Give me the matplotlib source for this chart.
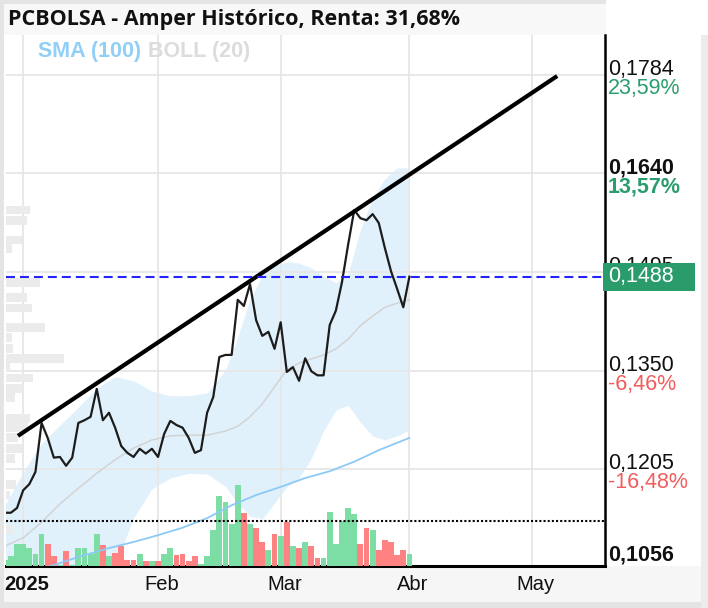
import matplotlib
matplotlib.use('Agg')
import matplotlib.pyplot as plt
from matplotlib.patches import Rectangle
import matplotlib.transforms as mtransforms

# Datos (eje x = sesiones desde el 27/12/2024)
price = [0.1141, 0.1141, 0.1148, 0.1174, 0.1183, 0.1201, 0.1273, 0.1251, 0.1222, 0.1223,
         0.1210, 0.1222, 0.1273, 0.1277, 0.1282, 0.1323, 0.1277, 0.1288, 0.1266, 0.1239,
         0.1229, 0.1223, 0.1235, 0.1228, 0.1235, 0.1223, 0.1257, 0.1276, 0.1270, 0.1266,
         0.1251, 0.1229, 0.1233, 0.1288, 0.1311, 0.1370, 0.1373, 0.1373, 0.1454, 0.1445,
         0.1477, 0.1424, 0.1401, 0.1407, 0.1382, 0.1421, 0.1348, 0.1355, 0.1335, 0.1368,
         0.1349, 0.1343, 0.1343, 0.1417, 0.1438, 0.1480, 0.1535, 0.1586, 0.1574, 0.1571,
         0.1580, 0.1567, 0.1530, 0.1496, 0.1470, 0.1443, 0.1488]
volume = [6, 10, 22, 22, 18, 12, 32, 22, 10, 1,
          15, 1, 18, 18, 12, 32, 21, 10, 13, 20,
          6, 6, 12, 5, 5, 5, 12, 18, 11, 12,
          5, 10, 2, 10, 36, 70, 64, 42, 81, 53,
          42, 38, 24, 16, 32, 30, 44, 20, 18, 24,
          20, 8, 8, 54, 22, 45, 58, 52, 22, 38,
          36, 16, 26, 24, 11, 16, 12]
vol_avg = 45
vol_top = 531  # volumen que ocupa todo el alto del panel

boll_idx = [0, 3, 6, 9, 12, 15, 18, 21, 24, 27, 30, 33, 36, 38, 40, 42, 44, 46, 48, 50,
            52, 54, 56, 58, 60, 62, 64, 66]
boll_up = [0.1152, 0.1201, 0.1243, 0.1270, 0.1296, 0.1324, 0.1341, 0.1335, 0.1320, 0.1313,
           0.1313, 0.1317, 0.1351, 0.1399, 0.1455, 0.1490, 0.1505, 0.1510, 0.1508, 0.1501,
           0.1489, 0.1479, 0.1492, 0.1557, 0.1604, 0.1632, 0.1648, 0.1648]
boll_mid = [0.1092, 0.1104, 0.1127, 0.1154, 0.1177, 0.1199, 0.1219, 0.1236, 0.1248, 0.1254,
            0.1255, 0.1255, 0.1261, 0.1268, 0.1282, 0.1301, 0.1326, 0.1351, 0.1361, 0.1367,
            0.1373, 0.1382, 0.1396, 0.1416, 0.1430, 0.1443, 0.1449, 0.1454]
boll_lo = [0.1027, 0.1005, 0.1008, 0.1016, 0.1024, 0.1035, 0.1064, 0.1133, 0.1176, 0.1192,
           0.1199, 0.1198, 0.1180, 0.1155, 0.1136, 0.1132, 0.1155, 0.1179, 0.1192, 0.1221,
           0.1261, 0.1292, 0.1299, 0.1274, 0.1254, 0.1248, 0.1254, 0.1263]

sma_idx = [0, 4, 8, 12, 17, 21, 25, 29, 33, 37, 41, 45, 49, 53, 57, 61, 66]
sma_val = [0.1042, 0.1054, 0.1064, 0.1076, 0.1089, 0.1098, 0.1108, 0.1119, 0.1133, 0.1152,
           0.1167, 0.1179, 0.1192, 0.1202, 0.1216, 0.1233, 0.1251]

trend_x = [2.15, 90.1]
trend_y = [0.1254, 0.1783]
last_price = 0.1488

# perfil de volumen (izquierda)
vp_levels = [0.1586, 0.1571, 0.1542, 0.1529, 0.1480, 0.1458, 0.1442, 0.1413, 0.1398, 0.1383,
             0.1368, 0.1354, 0.1339, 0.1324, 0.1310, 0.1280, 0.1266, 0.1251, 0.1236, 0.1221,
             0.1182, 0.1167, 0.1116]
vp_vol = [24, 21, 16, 6, 34, 21, 26, 39, 6, 7, 58, 4, 27, 17, 9, 24, 22, 12, 16, 9, 10, 4, 7]
vp_top = 599

axis_vals = [0.1784, 0.1640, 0.1495, 0.1350, 0.1205]
axis_pct = ['23,59%', '13,57%', '', '-6,46%', '-16,48%']
axis_min = 0.1056

month_idx = [3, 25, 45, 66, 86]
month_lbl = ['2025', 'Feb', 'Mar', 'Abr', 'May']

W, H = 708, 608
fig = plt.figure(figsize=(W / 100, H / 100), dpi=100)


def fig_rect(x0, y0, x1, y1, color):
    fig.patches.append(Rectangle((x0 / W, 1 - y1 / H), (x1 - x0) / W, (y1 - y0) / H,
                                 transform=fig.transFigure, fc=color, ec='none', zorder=-1))


# marcos y franjas de fondo
fig_rect(4, 4, 606, 35, '#f8f8f8')
fig_rect(4, 566, 701, 602, '#f6f6f6')
fig_rect(0, 0, 4, 608, '#e4e4e4')
fig_rect(0, 0, 606, 4, '#e4e4e4')
fig_rect(0, 602, 708, 608, '#e4e4e4')
fig_rect(701, 35, 708, 608, '#ececec')

ax = fig.add_axes([6 / W, 42 / H, 599 / W, 531 / H])
xlo, xhi = 0.2, 97.9
ylo, yhi = 0.10627, 0.18433
ax.set_xlim(xlo, xhi)
ax.set_ylim(ylo, yhi)
ax.set_xticks([])
ax.set_yticks([])
for s in ['left', 'top']:
    ax.spines[s].set_visible(False)
ax.spines['right'].set_linewidth(1.8)
ax.spines['bottom'].set_linewidth(2.2)

# rejilla
for v in axis_vals:
    ax.axhline(v, color='#e6e6e6', lw=1.3, zorder=1.5)
for m in month_idx:
    ax.axvline(m, color='#e6e6e6', lw=1.3, zorder=1.5)

# bandas de Bollinger
ax.fill_between(boll_idx, boll_lo, boll_up, color='#e1f1fc', lw=0, zorder=1)
ax.plot(boll_idx, boll_mid, color='#d3d3d3', lw=1.1, zorder=2)

# perfil de volumen
sx = (xhi - xlo) / vp_top
ax.barh(vp_levels, [v * sx for v in vp_vol], left=xlo, height=0.0013,
        color='#ebebeb', zorder=1.6)

# volumen
idx = list(range(len(price)))
cols = ['#7ddea5' if i == 0 or price[i] >= price[i - 1] else '#ff8282' for i in idx]
sy = (yhi - ylo) / vol_top
ax.bar(idx, [v * sy for v in volume], bottom=ylo, width=0.95, color=cols, zorder=3)
ax.axhline(ylo + vol_avg * sy, color='black', lw=1.5, ls=(0, (1, 1)), zorder=4)

# medias, precio y directriz
ax.plot(sma_idx, sma_val, color='#8ccaf5', lw=1.3, zorder=3.5)
ax.plot(idx, price, color='#1c1c1c', lw=1.6, zorder=5)
ax.plot(trend_x, trend_y, color='black', lw=3, zorder=6, solid_capstyle='butt')
ax.axhline(last_price, color='#2424ff', lw=1.5, ls=(0, (4.3, 2.4)), zorder=6.5)

# etiquetas del eje derecho
ytr = ax.get_yaxis_transform()
lab_font = 'Liberation Sans'
fs = 15.5
for v, p in zip(axis_vals, axis_pct):
    bold = 'bold' if v == 0.1640 else 'normal'
    ax.text(1.005, v, f'{v:.4f}'.replace('.', ','), transform=ytr, ha='left',
            va='baseline', fontsize=fs, family=lab_font, fontweight=bold,
            color='#111111', clip_on=False)
    if p:
        col = '#2b9d6d' if not p.startswith('-') else '#f25c5c'
        tr = mtransforms.offset_copy(ytr, fig=fig, x=0, y=-3, units='dots')
        ax.text(1.005, v, p, transform=tr, ha='left', va='top', fontsize=fs,
                family=lab_font, fontweight=bold, color=col, clip_on=False)
ax.text(1.005, ylo, f'{axis_min:.4f}'.replace('.', ','), transform=
        mtransforms.offset_copy(ytr, fig=fig, x=0, y=1, units='dots'),
        ha='left', va='bottom', fontsize=fs, family=lab_font, fontweight='bold',
        color='#111111', clip_on=False)

# caja del ultimo precio
box_h = 28 / 531 * (yhi - ylo)
ax.add_patch(Rectangle((1 - 2 / 599, last_price - box_h / 2), 92 / 599, box_h,
                       transform=ytr, fc='#2a9c6c', ec='none', clip_on=False, zorder=10))
ax.text(1.005, last_price, f'{last_price:.4f}'.replace('.', ','), transform=ytr,
        ha='left', va='center', fontsize=fs, family=lab_font, color='white',
        clip_on=False, zorder=11)

# etiquetas de meses
xtr = ax.get_xaxis_transform()
for m, l in zip(month_idx, month_lbl):
    ax.text(m + 0.6, -19 / 531, l, transform=xtr, ha='center', va='center',
            fontsize=14.5, family=lab_font, color='#111111',
            fontweight='bold' if l == '2025' else 'normal', clip_on=False)

# titulo y leyenda
fig.text(8 / W, 1 - 19 / H, 'PCBOLSA - Amper Histórico, Renta: 31,68%', fontsize=15.5,
         fontweight='bold', family='Open Sans', va='center', color='#111111')
fig.text(38 / W, 1 - 52 / H, 'SMA (100)', fontsize=15.5, fontweight='bold',
         family='Liberation Sans', va='center', color='#92cff7')
fig.text(148 / W, 1 - 52 / H, 'BOLL (20)', fontsize=15.5, fontweight='bold',
         family='Liberation Sans', va='center', color='#dcdcdc')

fig.savefig('out.png', dpi=100)
